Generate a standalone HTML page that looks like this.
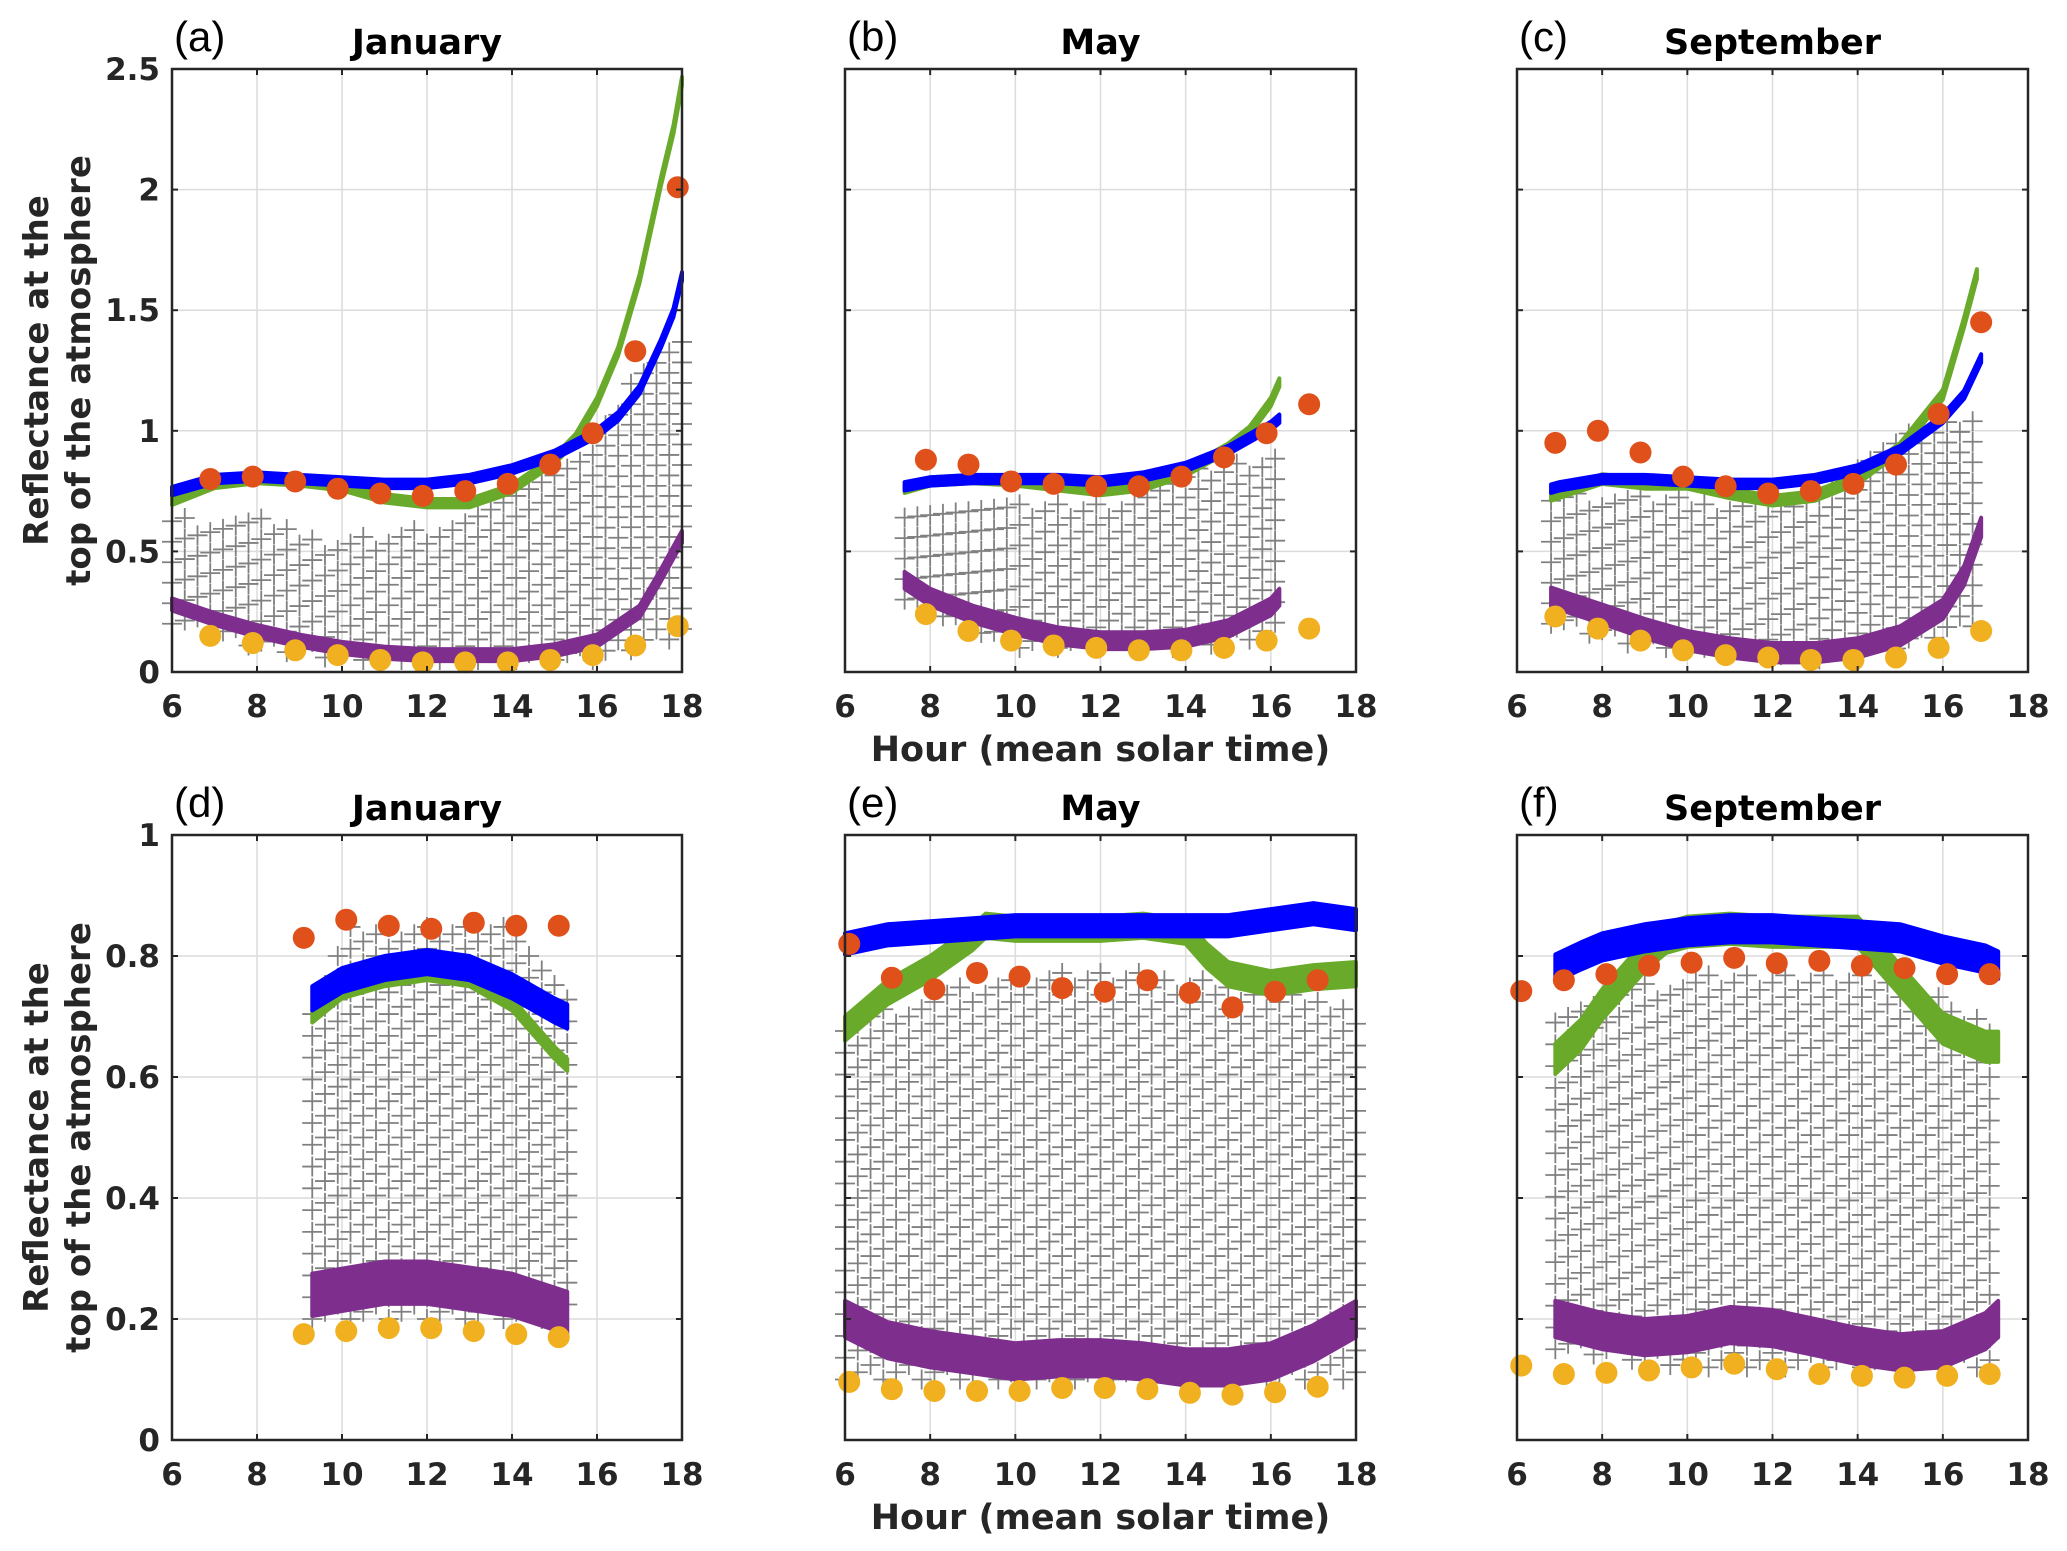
<!DOCTYPE html>
<html><head><meta charset="utf-8"><style>
body{margin:0;background:#fff}
svg{display:block}
text{font-family:"DejaVu Sans","Liberation Sans",sans-serif}
.tk{font-size:31px;font-weight:bold;fill:#262626}
.tt{font-size:35px;font-weight:bold;fill:#000}
.pl{font-family:"Liberation Sans",sans-serif;font-size:42px;fill:#000}
.yl{font-size:34px;font-weight:bold;fill:#262626}
.xl{font-size:35px;font-weight:bold;fill:#262626}
</style></head><body>
<svg id="chart" width="2067" height="1551" viewBox="0 0 2067 1551"></svg>
<script>
// ---- data (hour, reflectance) ----
const hoursA=[6.9,7.9,8.9,9.9,10.9,11.9,12.9,13.9,14.9,15.9,16.9,17.9];
const orangeA=[0.80,0.81,0.79,0.76,0.74,0.73,0.75,0.78,0.86,0.99,1.33,2.01];
const yellowA=[0.15,0.12,0.09,0.07,0.05,0.04,0.04,0.04,0.05,0.07,0.11,0.19];
const blueXA=[6,7,8,9,10,11,12,13,14,15,16,16.5,17,17.5,17.8,18];
const blueA=[0.75,0.80,0.81,0.80,0.79,0.78,0.78,0.80,0.84,0.90,0.99,1.06,1.17,1.36,1.49,1.64];
const greenXA=[6,7,8,9,10,11,12,13,14,15,15.5,16,16.5,17,17.5,17.8,18];
const greenA=[0.71,0.78,0.80,0.79,0.77,0.72,0.70,0.70,0.76,0.88,0.97,1.12,1.33,1.63,2.03,2.25,2.45];
const purpleXA=[6,7,8,9,10,11,12,13,14,15,16,17,17.5,18];
const purpleA=[0.28,0.22,0.17,0.13,0.10,0.08,0.07,0.07,0.07,0.09,0.13,0.25,0.40,0.56];
const grayXA=[6,8,10,12,14,16,17,18];
const grayLoA=[0.2,0.1,0.05,0.05,0.05,0.05,0.1,0.15];
const grayHiA=[0.65,0.65,0.55,0.6,0.75,1.0,1.3,1.45];

const hoursB=[7.9,8.9,9.9,10.9,11.9,12.9,13.9,14.9,15.9,16.9];
const orangeB=[0.88,0.86,0.79,0.78,0.77,0.77,0.81,0.89,0.99,1.11];
const yellowB=[0.24,0.17,0.13,0.11,0.10,0.09,0.09,0.10,0.13,0.18];
const blueXB=[7.4,8,9,10,11,12,13,14,15,16,16.2];
const blueB=[0.77,0.79,0.80,0.80,0.80,0.79,0.81,0.85,0.92,1.02,1.05];
const greenXB=[7.4,8,9,10,11,12,13,14,15,15.5,16,16.2];
const greenB=[0.76,0.79,0.80,0.79,0.77,0.75,0.77,0.83,0.93,1.0,1.12,1.2];
const purpleXB=[7.4,8,9,10,11,12,13,14,15,16,16.2];
const purpleB=[0.38,0.31,0.24,0.19,0.15,0.13,0.13,0.14,0.18,0.27,0.31];
const grayXB=[7.4,10,12,14,16.2];
const grayLoB=[0.3,0.1,0.1,0.1,0.15];
const grayHiB=[0.7,0.7,0.7,0.85,0.92];

const hoursC=[6.9,7.9,8.9,9.9,10.9,11.9,12.9,13.9,14.9,15.9,16.9];
const orangeC=[0.95,1.00,0.91,0.81,0.77,0.74,0.75,0.78,0.86,1.07,1.45];
const yellowC=[0.23,0.18,0.13,0.09,0.07,0.06,0.05,0.05,0.06,0.10,0.17];
const blueXC=[6.8,7,8,9,10,11,12,13,14,15,16,16.5,16.9];
const blueC=[0.76,0.77,0.80,0.80,0.79,0.78,0.78,0.80,0.84,0.92,1.05,1.15,1.30];
const greenXC=[6.8,8,9,10,11,12,13,14,15,16,16.5,16.8];
const greenC=[0.73,0.80,0.78,0.78,0.74,0.71,0.73,0.80,0.93,1.15,1.45,1.65];
const purpleXC=[6.8,8,9,10,11,12,13,14,15,16,16.5,16.9];
const purpleC=[0.31,0.24,0.18,0.13,0.10,0.08,0.08,0.10,0.15,0.26,0.40,0.60];
const grayXC=[6.8,9,11,13,15,16.9];
const grayLoC=[0.2,0.1,0.1,0.05,0.1,0.2];
const grayHiC=[0.75,0.75,0.7,0.75,1.0,1.1];

const hoursD=[9.1,10.1,11.1,12.1,13.1,14.1,15.1];
const orangeD=[0.83,0.86,0.85,0.845,0.855,0.85,0.85];
const yellowD=[0.175,0.18,0.185,0.185,0.18,0.175,0.17];
const blueXD=[9.3,10,11,12,13,14,15,15.3];
const blueD=[0.73,0.76,0.78,0.79,0.78,0.75,0.71,0.70];
const greenXD=[9.3,10,11,12,13,14,15,15.3];
const greenD=[0.70,0.74,0.76,0.77,0.76,0.72,0.64,0.62];
const purpleXD=[9.3,11,12,14,15.3];
const purpleD=[0.24,0.26,0.26,0.24,0.21];
const grayXD=[9.3,10,12,14,15.3];
const grayLoD=[0.2,0.2,0.2,0.2,0.2];
const grayHiD=[0.72,0.85,0.85,0.85,0.75];

const hoursE=[6.1,7.1,8.1,9.1,10.1,11.1,12.1,13.1,14.1,15.1,16.1,17.1];
const orangeE=[0.82,0.764,0.745,0.772,0.766,0.747,0.741,0.76,0.739,0.715,0.741,0.76];
const yellowE=[0.096,0.084,0.081,0.081,0.081,0.086,0.086,0.084,0.078,0.075,0.079,0.088];
const blueXE=[6,7,8,9,10,11,12,13,14,15,16,17,18];
const blueE=[0.82,0.835,0.84,0.845,0.85,0.85,0.85,0.85,0.85,0.85,0.86,0.87,0.86];
const greenXE=[6,7,8,9,9.3,10,11,12,13,14,14.5,15,16,17,18];
const greenE=[0.68,0.74,0.78,0.83,0.85,0.845,0.845,0.845,0.85,0.84,0.80,0.77,0.755,0.765,0.77];
const purpleXE=[6,7,8,9,10,11,12,13,14,15,16,17,18];
const purpleE=[0.20,0.165,0.15,0.14,0.13,0.135,0.135,0.13,0.12,0.12,0.13,0.16,0.20];
const grayXE=[6,9,12,15,18];
const grayLoE=[0.1,0.1,0.1,0.1,0.1];
const grayHiE=[0.7,0.76,0.78,0.76,0.72];

const hoursF=[6.1,7.1,8.1,9.1,10.1,11.1,12.1,13.1,14.1,15.1,16.1,17.1];
const orangeF=[0.742,0.76,0.77,0.784,0.789,0.797,0.788,0.792,0.784,0.78,0.77,0.77];
const yellowF=[0.123,0.109,0.111,0.115,0.12,0.126,0.117,0.109,0.106,0.103,0.106,0.109];
const blueXF=[6.9,7.5,8,9,10,11,12,13,14,15,16,17,17.3];
const blueF=[0.78,0.80,0.815,0.83,0.84,0.845,0.845,0.84,0.835,0.83,0.81,0.795,0.785];
const greenXF=[6.9,7.5,8,9,9.5,10,11,12,13,14,15,16,17,17.3];
const greenF=[0.63,0.67,0.72,0.80,0.83,0.84,0.845,0.84,0.84,0.84,0.76,0.68,0.65,0.65];
const purpleXF=[6.9,8,9,10,11,12,13,14,15,16,17,17.3];
const purpleF=[0.20,0.18,0.17,0.175,0.19,0.185,0.17,0.155,0.145,0.15,0.18,0.20];
const grayXF=[6.9,10,12,14,17.3];
const grayLoF=[0.15,0.12,0.12,0.12,0.12];
const grayHiF=[0.7,0.78,0.78,0.78,0.7];

const xTicks=[6,8,10,12,14,16,18];
const yTicksTop=[0,0.5,1,1.5,2,2.5];
const yTickLabelsTop=['0','0.5','1','1.5','2','2.5'];
const yTicksBot=[0,0.2,0.4,0.6,0.8,1];
const yTickLabelsBot=['0','0.2','0.4','0.6','0.8','1'];

const C={blue:'#0000ff',green:'#6aaa2a',orange:'#e0501a',yellow:'#f0b020',purple:'#7e2f8e',gray:'#808080'};
const NS='http://www.w3.org/2000/svg';
const svg=document.getElementById('chart');
function mk(tag,attrs,parent){const e=document.createElementNS(NS,tag);for(const k in attrs)e.setAttribute(k,attrs[k]);(parent||svg).appendChild(e);return e;}
function interp(xs,ys,x){if(x<=xs[0])return ys[0];for(let i=1;i<xs.length;i++){if(x<=xs[i]){const t=(x-xs[i-1])/(xs[i]-xs[i-1]);return ys[i-1]+t*(ys[i]-ys[i-1]);}}return ys[ys.length-1];}

const panels=[
 {id:'a',title:'January',x0:172,x1:682,y0:69,y1:672,ymax:2.5,top:true,showY:true,
  hrs:hoursA,org:orangeA,yel:yellowA,bx:blueXA,b:blueA,gx:greenXA,g:greenA,px:purpleXA,p:purpleA,grx:grayXA,glo:grayLoA,ghi:grayHiA,bw:0.035,gw:0.035,pw:0.05},
 {id:'b',title:'May',x0:845,x1:1356,y0:69,y1:672,ymax:2.5,top:true,showY:false,
  hrs:hoursB,org:orangeB,yel:yellowB,bx:blueXB,b:blueB,gx:greenXB,g:greenB,px:purpleXB,p:purpleB,grx:grayXB,glo:grayLoB,ghi:grayHiB,bw:0.035,gw:0.035,pw:0.07},
 {id:'c',title:'September',x0:1517,x1:2028,y0:69,y1:672,ymax:2.5,top:true,showY:false,
  hrs:hoursC,org:orangeC,yel:yellowC,bx:blueXC,b:blueC,gx:greenXC,g:greenC,px:purpleXC,p:purpleC,grx:grayXC,glo:grayLoC,ghi:grayHiC,bw:0.035,gw:0.04,pw:0.08},
 {id:'d',title:'January',x0:172,x1:682,y0:835,y1:1440,ymax:1,top:false,showY:true,
  hrs:hoursD,org:orangeD,yel:yellowD,bx:blueXD,b:blueD,gx:greenXD,g:greenD,px:purpleXD,p:purpleD,grx:grayXD,glo:grayLoD,ghi:grayHiD,bw:0.04,gw:0.02,pw:0.07},
 {id:'e',title:'May',x0:845,x1:1356,y0:835,y1:1440,ymax:1,top:false,showY:false,
  hrs:hoursE,org:orangeE,yel:yellowE,bx:blueXE,b:blueE,gx:greenXE,g:greenE,px:purpleXE,p:purpleE,grx:grayXE,glo:grayLoE,ghi:grayHiE,bw:0.035,gw:0.04,pw:0.06},
 {id:'f',title:'September',x0:1517,x1:2028,y0:835,y1:1440,ymax:1,top:false,showY:false,
  hrs:hoursF,org:orangeF,yel:yellowF,bx:blueXF,b:blueF,gx:greenXF,g:greenF,px:purpleXF,p:purpleF,grx:grayXF,glo:grayLoF,ghi:grayHiF,bw:0.045,gw:0.05,pw:0.06}
];

panels.forEach(P=>{
 const g=mk('g',{});
 
 
 const sx=h=>P.x0+(h-6)/12*(P.x1-P.x0);
 const sy=v=>P.y1-v/P.ymax*(P.y1-P.y0);
 const yt=P.top?yTicksTop:yTicksBot, ytl=P.top?yTickLabelsTop:yTickLabelsBot;
 xTicks.forEach(t=>{const l=mk('line',{x1:sx(t),x2:sx(t),y1:P.y0,y2:P.y1,stroke:'#dcdcdc','stroke-width':1.5},g);});
 yt.forEach(t=>{const l=mk('line',{x1:P.x0,x2:P.x1,y1:sy(t),y2:sy(t),stroke:'#dcdcdc','stroke-width':1.5},g);});
 const gg=mk('g',{stroke:C.gray,'stroke-width':1.8},g);
 
 
 const dyStep=P.top?0.085:0.036;
 let col=0;
 for(let h=P.grx[0];h<=P.grx[P.grx.length-1]+1e-6;h+=0.3){
  const lo=interp(P.grx,P.glo,h),hi=interp(P.grx,P.ghi,h);
  let v=lo+(col%3)*dyStep/3;
  while(v<=hi){const X=sx(h),Y=sy(v);mk('path',{d:`M${X-10} ${Y}H${X+10}M${X} ${Y-10}V${Y+10}`},gg);v+=dyStep;}
  col++;
 }
 function band(xs,ys,w,color,name){
  let top=[],bot=[];
  for(let i=0;i<xs.length;i++){top.push(sx(xs[i])+','+sy(ys[i]+w/2));bot.unshift(sx(xs[i])+','+sy(ys[i]-w/2));}
  const pg=mk('polygon',{points:top.concat(bot).join(' '),fill:color,stroke:color,'stroke-width':4,'stroke-linejoin':'round'},g);
  
  
 }
 band(P.px,P.p,P.pw,C.purple,'purple-series');
 band(P.gx,P.g,P.gw,C.green,'green-series');
 band(P.bx,P.b,P.bw,C.blue,'blue-series');
 P.hrs.forEach((h,i)=>{
  const o=mk('circle',{cx:sx(h),cy:sy(P.org[i]),r:11,fill:C.orange},g);
  
  
  const y=mk('circle',{cx:sx(h),cy:sy(P.yel[i]),r:11,fill:C.yellow},g);
  
  
 });
 const fr=mk('rect',{x:P.x0,y:P.y0,width:P.x1-P.x0,height:P.y1-P.y0,fill:'none',stroke:'#262626','stroke-width':2.5},g);
 
 
 xTicks.forEach(t=>{
  mk('line',{x1:sx(t),x2:sx(t),y1:P.y1,y2:P.y1-6,stroke:'#262626','stroke-width':2},g);
  mk('line',{x1:sx(t),x2:sx(t),y1:P.y0,y2:P.y0+6,stroke:'#262626','stroke-width':2},g);
  const tx=mk('text',{x:sx(t),y:P.y1+45,'text-anchor':'middle',class:'tk'},g);tx.textContent=t;
  
 });
 yt.forEach((t,i)=>{
  mk('line',{x1:P.x0,x2:P.x0+6,y1:sy(t),y2:sy(t),stroke:'#262626','stroke-width':2},g);
  mk('line',{x1:P.x1,x2:P.x1-6,y1:sy(t),y2:sy(t),stroke:'#262626','stroke-width':2},g);
  if(P.showY){const tx=mk('text',{x:P.x0-12,y:sy(t)+11,'text-anchor':'end',class:'tk'},g);tx.textContent=ytl[i];
  }
 });
 const ti=mk('text',{x:(P.x0+P.x1)/2,y:P.y0-15,'text-anchor':'middle',class:'tt'},g);ti.textContent=P.title;
 
 const pl=mk('text',{x:P.x0+2,y:P.y0-18,class:'pl'},g);pl.textContent='('+P.id+')';
 
 if(P.showY){
  const cy=(P.y0+P.y1)/2;
  const yl=mk('text',{transform:`translate(48 ${cy}) rotate(-90)`,'text-anchor':'middle',class:'yl'},g);
  
  const t1=mk('tspan',{x:0,y:0},yl);t1.textContent='Reflectance at the';
  const t2=mk('tspan',{x:0,y:42},yl);t2.textContent='top of the atmosphere';
 }
 if(P.id==='b'||P.id==='e'){
  const xl=mk('text',{x:(P.x0+P.x1)/2,y:P.y1+89,'text-anchor':'middle',class:'xl'},g);xl.textContent='Hour (mean solar time)';
  
 }
});
</script>
</body></html>
